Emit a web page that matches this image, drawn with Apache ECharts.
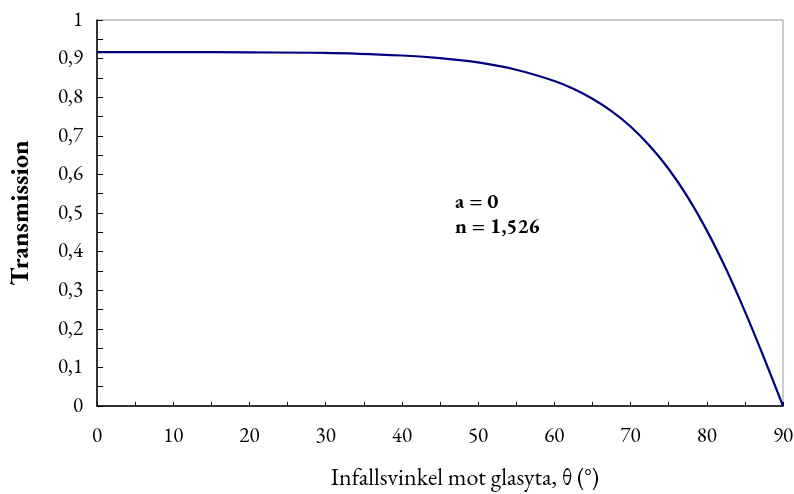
<!DOCTYPE html>
<html>
<head>
<meta charset="utf-8">
<script src="https://cdn.jsdelivr.net/npm/echarts@6/dist/echarts.min.js"></script>
<style>
  html, body { margin: 0; padding: 0; background: #fff; }
  #chart { width: 794px; height: 494px; }
</style>
</head>
<body>
<div id="chart"></div>
<script>
// Angle of incidence on the glass surface (degrees)
const angles = [0, 10, 20, 30, 40, 45, 50, 55, 60, 62.5, 65, 67.5, 70, 72.5, 75, 77.5, 80, 82.5, 85, 87.5, 90];
// Transmission through the pane, no absorption (a = 0), n = 1,526
const transmission = [0.917, 0.917, 0.916, 0.915, 0.908, 0.901, 0.890, 0.871, 0.842, 0.822, 0.796, 0.764, 0.724, 0.674, 0.614, 0.541, 0.455, 0.356, 0.245, 0.125, 0.0];

const xTicks = { min: 0, max: 90, interval: 10 };
const yTicks = { min: 0, max: 1, interval: 0.1 };
const noteLines = ['a = 0', 'n = 1,526'];

const serif = '"EB Garamond", Garamond, "Liberation Serif", "DejaVu Serif", serif';

const chart = echarts.init(document.getElementById('chart'), null, { renderer: 'canvas' });

chart.setOption({
  animation: false,
  backgroundColor: '#ffffff',
  grid: {
    left: 97, right: 11, top: 20, bottom: 88,
    outerBoundsMode: 'none',
    containLabel: false,
    show: true, borderColor: '#9a9a9a', borderWidth: 1, backgroundColor: 'transparent'
  },
  xAxis: {
    type: 'value',
    min: xTicks.min, max: xTicks.max, interval: xTicks.interval,
    name: 'Infallsvinkel mot glasyta, θ (°)',
    nameLocation: 'middle', nameGap: 60,
    nameTextStyle: { fontFamily: serif, fontSize: 24, color: '#000', padding: [0, 0, 0, 50] },
    axisLine: { show: true, onZero: false, lineStyle: { color: '#000', width: 1.5 } },
    axisTick: { show: true, inside: true, length: 4, lineStyle: { color: '#000' } },
    minorTick: { show: true, splitNumber: 2, length: 4, lineStyle: { color: '#000' } },
    splitLine: { show: false },
    axisLabel: { fontFamily: serif, fontSize: 21, color: '#000', margin: 20 }
  },
  yAxis: {
    type: 'value',
    min: yTicks.min, max: yTicks.max, interval: yTicks.interval,
    name: 'Transmission',
    nameLocation: 'middle', nameGap: 63,
    nameTextStyle: { fontFamily: serif, fontSize: 26, fontWeight: 'bold', color: '#000' },
    axisLine: { show: true, onZero: false, lineStyle: { color: '#000', width: 1.5 } },
    axisTick: { show: true, inside: true, length: 6, lineStyle: { color: '#000' } },
    minorTick: { show: true, splitNumber: 2, length: 6, lineStyle: { color: '#000' } },
    splitLine: { show: false },
    axisLabel: {
      fontFamily: serif, fontSize: 21, color: '#000', margin: 14,
      formatter: v => String(Math.round(v * 10) / 10).replace('.', ',')
    }
  },
  graphic: [{
    type: 'text',
    left: 455, top: 190,
    style: {
      text: noteLines.join('\n'),
      fontFamily: serif, fontSize: 21, fontWeight: 'bold', lineHeight: 25, fill: '#000'
    }
  }],
  series: [{
    type: 'line',
    data: angles.map((a, i) => [a, transmission[i]]),
    smooth: 0.3,
    showSymbol: false,
    lineStyle: { color: '#000080', width: 2.2 },
    clip: false
  }]
});
</script>
</body>
</html>
